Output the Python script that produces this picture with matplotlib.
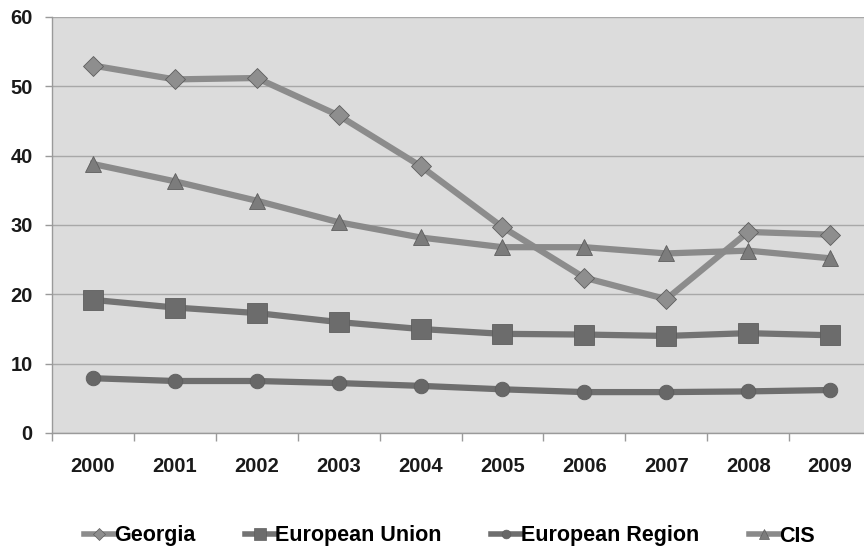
import matplotlib
matplotlib.use("Agg")
import matplotlib.pyplot as plt
from matplotlib.lines import Line2D

years = ["2000", "2001", "2002", "2003", "2004", "2005", "2006", "2007", "2008", "2009"]
georgia = [53.0, 51.0, 51.2, 45.8, 38.5, 29.7, 22.4, 19.3, 29.0, 28.6]
european_union = [19.2, 18.1, 17.3, 16.0, 15.0, 14.3, 14.2, 14.0, 14.4, 14.1]
european_region = [7.9, 7.5, 7.5, 7.2, 6.8, 6.3, 5.9, 5.9, 6.0, 6.2]
cis = [38.8, 36.3, 33.5, 30.4, 28.2, 26.8, 26.8, 25.9, 26.3, 25.2]

plt.rcParams["font.family"] = ["Liberation Sans", "DejaVu Sans"]

fig = plt.figure(figsize=(8.64, 5.5), dpi=100)
ax = fig.add_axes([52 / 864, 117 / 550, 819 / 864, 416 / 550])
ax.set_facecolor("#dcdcdc")

x = list(range(len(years)))
series = [
    ("Georgia", georgia, "D", 10.5, "#8c8c8c", "#8e8e8e"),
    ("European Union", european_union, "s", 14, "#737373", "#6c6c6c"),
    ("European Region", european_region, "o", 10.5, "#6e6e6e", "#676767"),
    ("CIS", cis, "^", 11.5, "#8a8a8a", "#7c7c7c"),
]
handles = []
for name, vals, mk, ms, lc, mc in series:
    ax.plot(x, vals, color=lc, lw=4.5, marker=mk, markersize=ms,
            markerfacecolor=mc, markeredgecolor="#5e5e5e", markeredgewidth=0.6,
            solid_joinstyle="round", zorder=3)
    handles.append(Line2D([0], [0], color=lc, lw=4, marker=mk, markersize=ms * 0.6,
                          markerfacecolor=mc, markeredgecolor="#5e5e5e",
                          markeredgewidth=0.5))

ax.set_xlim(-0.5, len(years) - 0.5)
ax.set_ylim(0, 60)
ax.set_yticks(range(0, 61, 10))
ax.yaxis.grid(True, color="#a8a8a8", lw=1)
ax.set_axisbelow(True)

ax.set_xticks(x)
ax.set_xticklabels(years)
ax.set_xticks([i - 0.5 for i in range(len(years) + 1)], minor=True)
ax.tick_params(axis="x", which="major", length=0, pad=17)
ax.tick_params(axis="x", which="minor", length=6, color="#9a9a9a", width=1)
ax.tick_params(axis="y", length=5, color="#9a9a9a", width=1, pad=9)
for lbl in ax.get_xticklabels():
    lbl.set_fontsize(14.5)
    lbl.set_fontweight("bold")
    lbl.set_color("#1a1a1a")
for lbl in ax.get_yticklabels():
    lbl.set_fontsize(14.5)
    lbl.set_fontweight("bold")
    lbl.set_color("#1a1a1a")

for side in ["top", "right"]:
    ax.spines[side].set_visible(False)
for side in ["left", "bottom"]:
    ax.spines[side].set_color("#9a9a9a")
    ax.spines[side].set_linewidth(1)

fig.legend(handles, [s[0] for s in series], loc="center", ncol=4,
           bbox_to_anchor=(449 / 864, 14 / 550), frameon=False,
           prop={"weight": "bold", "size": 15.5}, handlelength=1.4,
           handletextpad=0.0, columnspacing=2.3)

fig.savefig("out.png", dpi=100)
